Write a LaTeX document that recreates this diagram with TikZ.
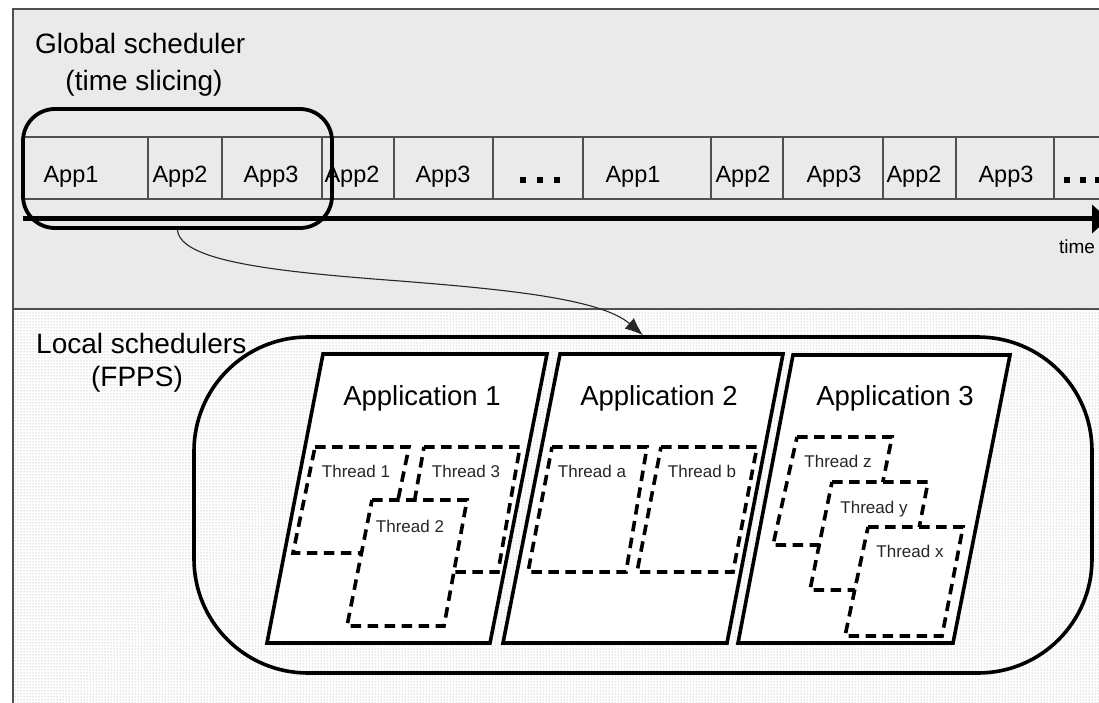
\documentclass[tikz,border=0pt]{standalone}
\usepackage{fontspec}
\setmainfont{Liberation Sans}
\usetikzlibrary{arrows.meta,patterns}
\definecolor{panel}{HTML}{EAEAEA}
\definecolor{rulec}{HTML}{505050}
\begin{document}
\begin{tikzpicture}[x=1pt,y=-1pt,
  title/.style={font=\fontsize{28}{32}\selectfont, inner sep=0, anchor=base},
  applabel/.style={font=\fontsize{23.5}{27}\selectfont, inner sep=0, anchor=base},
  apptitle/.style={font=\fontsize{27.5}{32}\selectfont, inner sep=0, anchor=base},
  thrlabel/.style={font=\fontsize{17}{20}\selectfont, inner sep=0, anchor=base, text=black!85},
  slotbox/.style={draw=rulec, line width=1.2pt},
  appbox/.style={draw=black, fill=white, line width=3.6pt, line join=miter},
  thrbox/.style={draw=black, fill=white, line width=3.6pt, dash pattern=on 10.5pt off 6.5pt},
  dotsq/.style={fill=black, minimum size=6pt, inner sep=0},
]
\useasboundingbox (0,0) rectangle (1099,703);
\clip (0,0) rectangle (1099,703);
% panels
\fill[white] (0,0) rectangle (1099,703);
\fill[panel] (13,9) rectangle (1099,309);
\fill[pattern=dots, pattern color=black!40] (13,309) rectangle (1099,703);
\draw[rulec, line width=1.3pt] (13,703) -- (13,9) -- (1099,9);
\draw[rulec, line width=1.3pt] (13,309) -- (1099,309);

% titles
\node[title, anchor=base west] (gs) at (35,54) {Global scheduler};
\node[title] (ts) at (144,91) {(time slicing)};
\node[title, anchor=base west] (ls) at (36,353) {Local schedulers};
\node[title] (fp) at (137,386) {(FPPS)};

% time slots
\foreach \a/\b in {23/148,148/222,222/322,322/394,394/493,493/583,583/711,711/783,783/883,883/956,956/1054,1054/1110}
  \draw[slotbox] (\a,137) rectangle (\b,199);
\node[applabel] (s1) at (71,183) {App1};
\node[applabel] (s2) at (180,183) {App2};
\node[applabel] (s3) at (271,183) {App3};
\node[applabel] (s4) at (352,183) {App2};
\node[applabel] (s5) at (443,183) {App3};
\node[dotsq] (d1) at (523,180) {};
\node[dotsq] (d2) at (540,180) {};
\node[dotsq] (d3) at (557,180) {};
\node[applabel] (s6) at (633,183) {App1};
\node[applabel] (s7) at (743,183) {App2};
\node[applabel] (s8) at (834,183) {App3};
\node[applabel] (s9) at (914,183) {App2};
\node[applabel] (s10) at (1006,183) {App3};
\node[dotsq] (d4) at (1067,180) {};
\node[dotsq] (d5) at (1083,180) {};
\node[dotsq] (d6) at (1098,180) {};

% time axis
\coordinate (tl0) at (23,219);
\coordinate (tl1) at (1108,219);
\draw[line width=5pt, -{Triangle[length=16pt,width=28pt]}] (tl0) -- (tl1);
\node[font=\fontsize{19}{22}\selectfont, inner sep=0, anchor=base] (time) at (1077,254) {time};

% selection
\node[draw=black, line width=3.8pt, rounded corners=32pt, minimum width=309pt, minimum height=119pt, inner sep=0] (sel) at (177.5,168.5) {};

% local schedulers container
\node[draw=black, line width=3.6pt, rounded corners=114pt, minimum width=898pt, minimum height=336pt, inner sep=0] (loc) at (643,505) {};

% connector
\draw[black!85, line width=1.1pt, -{Latex[length=18pt,width=14pt]}]
  (sel.south) .. controls (180,262) and (280,272) .. (400,281)
  .. controls (500,289) and (600,298) .. (loc.north);

% applications
\draw[appbox] (323,354) -- (547,354) -- (490,643) -- (267,643) -- cycle;
\draw[appbox] (560,354) -- (783,354) -- (727,643) -- (503,643) -- cycle;
\draw[appbox] (793,355) -- (1010,355) -- (953,643) -- (738,643) -- cycle;
\node[apptitle] (a1) at (422,405) {Application 1};
\node[apptitle] (a2) at (659,405) {Application 2};
\node[apptitle] (a3) at (895,405) {Application 3};

% threads app 1
\draw[thrbox] (315,447) -- (409,447) -- (387,553) -- (293,553) -- cycle;
\draw[thrbox] (424,447) -- (520,447) -- (498,572) -- (402,572) -- cycle;
\draw[thrbox] (372,500) -- (467,500) -- (444,626) -- (347,626) -- cycle;
% threads app 2
\draw[thrbox] (552,447) -- (647,447) -- (626,572) -- (528,572) -- cycle;
\draw[thrbox] (661,447) -- (757,447) -- (733,572) -- (637,572) -- cycle;
% threads app 3
\draw[thrbox] (797,437) -- (892,437) -- (870,545) -- (773,545) -- cycle;
\draw[thrbox] (832,482) -- (928,482) -- (907,590) -- (810,590) -- cycle;
\draw[thrbox] (868,527) -- (963,527) -- (942,636) -- (845,636) -- cycle;

\node[thrlabel] (t1) at (356,477) {Thread 1};
\node[thrlabel] (t3) at (466,477) {Thread 3};
\node[thrlabel] (t2) at (410,532) {Thread 2};
\node[thrlabel] (ta) at (592,477) {Thread a};
\node[thrlabel] (tb) at (702,477) {Thread b};
\node[thrlabel] (tz) at (838,467) {Thread z};
\node[thrlabel] (ty) at (874,513) {Thread y};
\node[thrlabel] (tx) at (910,557) {Thread x};
\end{tikzpicture}
\end{document}
